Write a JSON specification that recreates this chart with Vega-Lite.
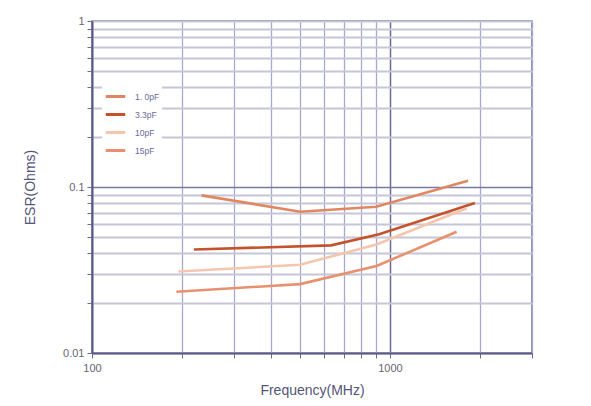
{
  "$schema": "https://vega.github.io/schema/vega-lite/v6.json",
  "width": 440,
  "height": 332,
  "autosize": "none",
  "padding": {"left": 92, "top": 21, "right": 59, "bottom": 53},
  "background": "white",
  "config": {
    "view": {"stroke": "#6a6a98", "strokeWidth": 1.5},
    "font": "Liberation Sans"
  },
  "data": {
    "values": [
      {"series": "1. 0pF", "freq": 233, "esr": 0.089},
      {"series": "1. 0pF", "freq": 500, "esr": 0.071},
      {"series": "1. 0pF", "freq": 900, "esr": 0.076},
      {"series": "1. 0pF", "freq": 1830, "esr": 0.109},
      {"series": "3.3pF", "freq": 220, "esr": 0.042},
      {"series": "3.3pF", "freq": 635, "esr": 0.0445},
      {"series": "3.3pF", "freq": 920, "esr": 0.052},
      {"series": "3.3pF", "freq": 1930, "esr": 0.080},
      {"series": "10pF", "freq": 195, "esr": 0.031},
      {"series": "10pF", "freq": 499, "esr": 0.034},
      {"series": "10pF", "freq": 902, "esr": 0.045},
      {"series": "10pF", "freq": 1810, "esr": 0.0744},
      {"series": "15pF", "freq": 192, "esr": 0.0234},
      {"series": "15pF", "freq": 499, "esr": 0.026},
      {"series": "15pF", "freq": 902, "esr": 0.0334},
      {"series": "15pF", "freq": 1675, "esr": 0.0538}
    ]
  },
  "mark": {"type": "line", "strokeWidth": 2.6},
  "encoding": {
    "x": {
      "field": "freq",
      "type": "quantitative",
      "scale": {"type": "log", "domain": [100, 3000], "nice": false},
      "axis": {
        "title": "Frequency(MHz)",
        "titleFontSize": 14,
        "titleFontWeight": "normal",
        "titleColor": "#55557a",
        "titlePadding": 10,
        "values": [100, 200, 300, 400, 500, 600, 700, 800, 900, 1000, 2000, 3000],
        "labelExpr": "datum.value == 100 || datum.value == 1000 ? datum.value : ''",
        "labelFlush": false,
        "labelFontSize": 11,
        "labelColor": "#666670",
        "labelPadding": 4,
        "tickSize": 5,
        "tickColor": "#6a6a98",
        "domainColor": "#5a5a88",
        "domainWidth": 2,
        "grid": true,
        "gridColor": {"condition": {"test": "datum.value == 1000", "value": "#6a6a98"}, "value": "#a8a8cc"},
        "gridWidth": {"condition": {"test": "datum.value == 1000", "value": 1.5}, "value": 1.3},
        "gridOpacity": 1
      }
    },
    "y": {
      "field": "esr",
      "type": "quantitative",
      "scale": {"type": "log", "domain": [0.01, 1], "nice": false},
      "axis": {
        "title": "ESR(Ohms)",
        "titleFontSize": 14,
        "titleFontWeight": "normal",
        "titleColor": "#55557a",
        "titlePadding": 25,
        "values": [0.01, 0.02, 0.03, 0.04, 0.05, 0.06, 0.07, 0.08, 0.09, 0.1, 0.2, 0.3, 0.4, 0.5, 0.6, 0.7, 0.8, 0.9, 1],
        "labelExpr": "datum.value == 0.01 ? '0.01' : datum.value == 0.1 ? '0.1' : datum.value == 1 ? '1' : ''",
        "labelFlush": false,
        "labelFontSize": 11,
        "labelColor": "#666670",
        "labelPadding": 3,
        "tickSize": 5,
        "tickColor": "#6a6a98",
        "domainColor": "#5a5a88",
        "domainWidth": 2,
        "grid": true,
        "gridColor": {"condition": {"test": "datum.value == 0.1", "value": "#7a7aa4"}, "value": "#c6c6d8"},
        "gridWidth": {"condition": {"test": "datum.value == 0.1", "value": 1.6}, "value": 2},
        "gridOpacity": 1
      }
    },
    "color": {
      "field": "series",
      "type": "nominal",
      "sort": ["1. 0pF", "3.3pF", "10pF", "15pF"],
      "scale": {"domain": ["1. 0pF", "3.3pF", "10pF", "15pF"], "range": ["#e08762", "#c4532c", "#f4c6ad", "#e8916f"]},
      "legend": {
        "title": null,
        "orient": "none",
        "legendX": 10,
        "legendY": 62,
        "symbolType": "stroke",
        "symbolSize": 380,
        "symbolStrokeWidth": 3,
        "labelFontSize": 8.5,
        "labelColor": "#6a6a9a",
        "rowPadding": 0,
        "labelOffset": 8,
        "fillColor": "white",
        "padding": 2
      }
    },
    "strokeWidth": {
      "condition": {"test": "datum.series == '3.3pF'", "value": 3},
      "value": 2.5
    }
  }
}
